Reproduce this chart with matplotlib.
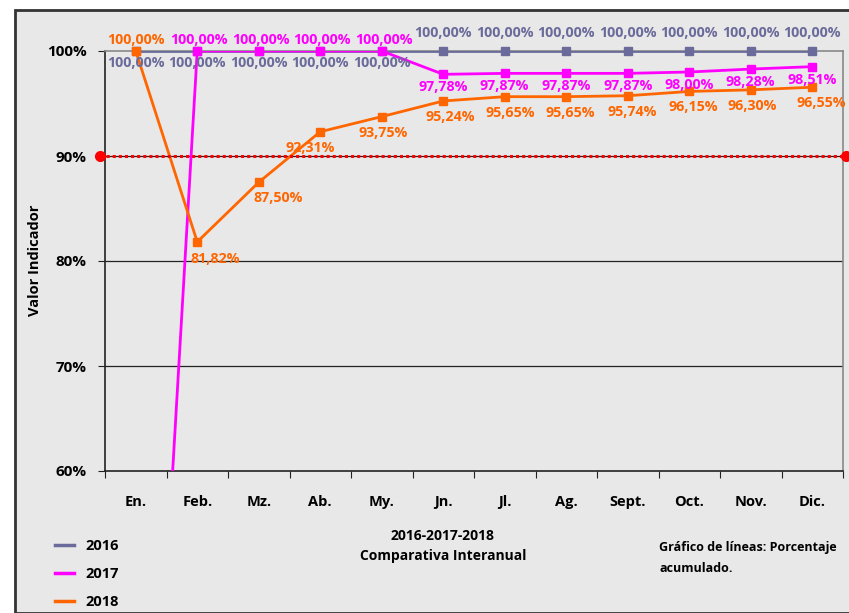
import matplotlib
matplotlib.use('Agg')
import matplotlib.pyplot as plt
from matplotlib.patches import Rectangle
from matplotlib.lines import Line2D

plt.rcParams['font.family'] = ['Open Sans', 'DejaVu Sans']

# --- datos ---
months = ['En.', 'Feb.', 'Mz.', 'Ab.', 'My.', 'Jn.', 'Jl.', 'Ag.', 'Sept.', 'Oct.', 'Nov.', 'Dic.']
v2016 = [100.0, 100.0, 100.0, 100.0, 100.0, 100.0, 100.0, 100.0, 100.0, 100.0, 100.0, 100.0]
v2017 = [0.0, 100.0, 100.0, 100.0, 100.0, 97.78, 97.87, 97.87, 97.87, 98.00, 98.28, 98.51]
v2018 = [100.0, 81.82, 87.50, 92.31, 93.75, 95.24, 95.65, 95.65, 95.74, 96.15, 96.30, 96.55]
meta = 90.0
yticks = [60, 70, 80, 90, 100]

c16 = '#6B6B9B'
c17 = '#FF00FF'
c18 = '#FF6600'
bg = '#E8E8E8'

W, H = 849, 613
fig = plt.figure(figsize=(W / 100, H / 100), dpi=100, facecolor='white')

# marco gris del gráfico
fig.patches.append(Rectangle((15 / W, 0), 1, (H - 10) / H, transform=fig.transFigure,
                             facecolor=bg, edgecolor='#333333', lw=2, zorder=-10))

ax = fig.add_axes([105 / W, (H - 471) / H, (843 - 105) / W, (471 - 51) / H])
ax.set_facecolor(bg)

x = list(range(len(months)))

for y in [70, 80, 90]:
    ax.axhline(y, color='#222222', lw=0.9, zorder=1)

for vals, c, z in [(v2016, c16, 3), (v2017, c17, 4), (v2018, c18, 5)]:
    ax.plot(x, vals, color=c, lw=2, zorder=z)
    xs = [xi for xi, v in zip(x, vals) if v >= 60]
    ys = [v for v in vals if v >= 60]
    ax.plot(xs, ys, ls='none', marker='s', ms=6, color=c, clip_on=False, zorder=z)

# línea de meta
ax.plot([-0.58, 11.55], [meta, meta], color='red', lw=2.2, ls=(0, (1, 1)),
        marker='o', ms=7, clip_on=False, zorder=6)

ax.set_xlim(-0.5, 11.5)
ax.set_ylim(60, 100)


def fmt(v):
    return f'{v:.2f}'.replace('.', ',') + '%'


def label(xs, vals, color, offs):
    for xi, v, (dx, dy) in zip(xs, vals, offs):
        if v < 60:
            continue
        ax.annotate(fmt(v), (xi, v), xytext=(dx, dy), textcoords='offset pixels',
                    ha='center', va='center', color=color, fontsize=10.3,
                    fontweight='bold', annotation_clip=False, zorder=7)


label(x, v2016, c16, [(0, -12)] * 5 + [(0, 18)] * 7)
label(x, v2017, c17, [(2, 11)] * 5 + [(0, -13)] * 7)
label(x, v2018, c18, [(0, 11), (18, -17), (19, -16), (-10, -16), (1, -16)]
      + [(7, -16), (6, -16), (4, -16), (4, -16), (4, -16), (2, -16), (9, -16)])

ax.set_xticks([i + 0.5 for i in range(-1, 12)], minor=False)
ax.set_xticklabels([])
ax.set_xticks(x, minor=True)
ax.set_xticklabels(months, minor=True, fontsize=10.5, fontweight='bold')
ax.tick_params(axis='x', which='major', direction='out', length=5, color='#222222')
ax.tick_params(axis='x', which='minor', length=0, pad=17)

ax.set_yticks(yticks)
ax.set_yticklabels([f'{t}%' for t in yticks], fontsize=11, fontweight='bold')
ax.tick_params(axis='y', direction='out', length=5, color='#222222', pad=8)

fig.text(35 / W, 1 - 260 / H, 'Valor Indicador', rotation=90, ha='center', va='center',
         fontsize=10.5, fontweight='bold')

for s in ['left', 'bottom']:
    ax.spines[s].set_color('#222222')
    ax.spines[s].set_linewidth(1.2)
for s in ['top', 'right']:
    ax.spines[s].set_color('#888888')
    ax.spines[s].set_linewidth(1.2)

# leyenda
handles = [Line2D([], [], color=c, lw=2.5) for c in (c16, c17, c18)]
fig.legend(handles, ['2016', '2017', '2018'], loc='upper left',
           bbox_to_anchor=(42 / W, 1 - 526 / H), frameon=False, handlelength=1.3,
           handletextpad=0.8, labelspacing=0.95, prop={'size': 10.5, 'weight': 'bold'})

fig.text(443 / W, 1 - 536 / H, '2016-2017-2018', ha='center', va='center',
         fontsize=10, fontweight='bold')
fig.text(443 / W, 1 - 556 / H, 'Comparativa Interanual', ha='center', va='center',
         fontsize=10, fontweight='bold')
fig.text(659 / W, 1 - 548 / H, 'Gráfico de líneas: Porcentaje', ha='left', va='center',
         fontsize=9, fontweight='bold')
fig.text(659 / W, 1 - 568 / H, 'acumulado.', ha='left', va='center',
         fontsize=9, fontweight='bold')

fig.savefig('out.png', dpi=100, facecolor='white')
